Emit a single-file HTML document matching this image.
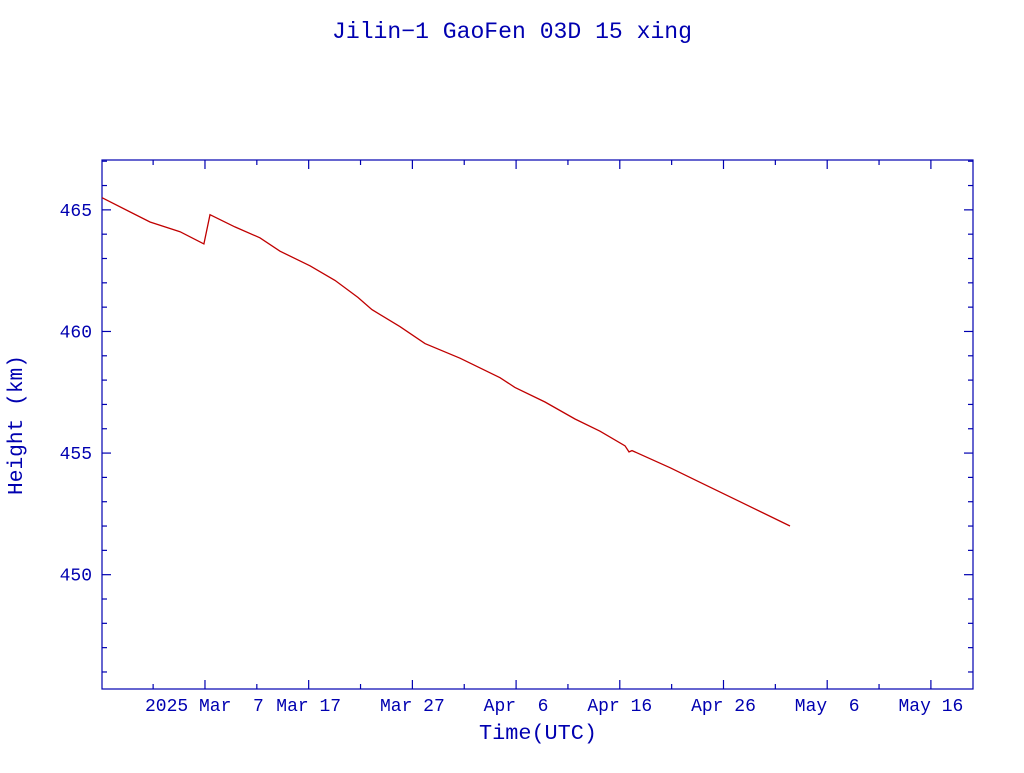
<!DOCTYPE html>
<html><head><meta charset="utf-8"><style>
body{margin:0;background:#fff;width:1024px;height:768px;overflow:hidden}
text{font-family:"Liberation Mono",monospace;fill:#0000b0}
</style></head><body>
<svg id="chart" width="1024" height="768" xmlns="http://www.w3.org/2000/svg">
<text x="512" y="38" text-anchor="middle" font-size="23" textLength="360" lengthAdjust="spacingAndGlyphs">Jilin−1 GaoFen 03D 15 xing</text>
<rect x="102" y="160" width="871" height="529" fill="none" stroke="#0000b0" stroke-width="1.2"/>
<g id="axes"></g>
<text transform="translate(22,425) rotate(-90)" text-anchor="middle" font-size="21" textLength="140" lengthAdjust="spacingAndGlyphs">Height (km)</text>
<text x="538" y="739" text-anchor="middle" font-size="21" textLength="118" lengthAdjust="spacingAndGlyphs">Time(UTC)</text>
</svg>
<script>
// days relative to 2025 Mar 7
const days=[-9.93,-5.30,-2.41,-0.10,0.48,2.89,5.30,7.23,10.13,12.54,14.75,16.10,18.80,21.22,24.59,28.45,29.89,32.79,35.68,38.09,40.50,40.89,41.18,44.84,47.73,51.59,56.41];
const heights=[465.5,464.5,464.1,463.6,464.8,464.3,463.85,463.3,462.7,462.1,461.4,460.9,460.2,459.5,458.9,458.1,457.7,457.1,456.4,455.9,455.3,455.05,455.1,454.4,453.8,453.0,452.0];
const yTicks=[450,455,460,465];
const xTickLabels=["Mar  7","Mar 17","Mar 27","Apr  6","Apr 16","Apr 26","May  6","May 16"];
const xTickDays=[0,10,20,30,40,50,60,70];
const NS="http://www.w3.org/2000/svg";
const X0=102,X1=973,Y0=689,Y1=160;
const dMin=-9.93,dMax=74.06,hMin=445.3,hMax=467.05;
const xs=d=>X0+(d-dMin)/(dMax-dMin)*(X1-X0);
const ys=h=>Y0-(h-hMin)/(hMax-hMin)*(Y0-Y1);
const g=document.getElementById('axes');
function line(x1,y1,x2,y2,name){const l=document.createElementNS(NS,'line');
l.setAttribute('x1',x1);l.setAttribute('y1',y1);l.setAttribute('x2',x2);l.setAttribute('y2',y2);
l.setAttribute('stroke','#0000b0');l.setAttribute('stroke-width','1.2');


g.appendChild(l);}
for(let h=446;h<=467;h++){const y=ys(h);const len=(h%5===0)?9:5;
line(X0,y,X0+len,y,'y-tick');line(X1,y,X1-len,y,'y-tick');}
yTicks.forEach(v=>{const t=document.createElementNS(NS,'text');
t.setAttribute('x',92);t.setAttribute('y',ys(v)+6);t.setAttribute('text-anchor','end');t.setAttribute('font-size','18');t.textContent=v;


g.appendChild(t);});
for(let d=-5;d<=70;d+=5){const x=xs(d);const len=(d%10===0)?9:5;
line(x,Y0,x,Y0-len,'x-tick');line(x,Y1,x,Y1+len,'x-tick');}
xTickDays.forEach((d,i)=>{const t=document.createElementNS(NS,'text');
t.setAttribute('y',711);t.setAttribute('font-size','18');
t.setAttribute('xml:space','preserve');t.style.whiteSpace='pre';
if(i===0){t.textContent='2025 '+xTickLabels[i];t.setAttribute('x',xs(d)-60);t.setAttribute('text-anchor','start');}
else{t.textContent=xTickLabels[i];t.setAttribute('x',xs(d));t.setAttribute('text-anchor','middle');}


g.appendChild(t);});
const p=document.createElementNS(NS,'polyline');
p.setAttribute('points',days.map((d,i)=>xs(d).toFixed(1)+','+ys(heights[i]).toFixed(1)).join(' '));
p.setAttribute('fill','none');p.setAttribute('stroke','#c00000');p.setAttribute('stroke-width','1.3');


g.appendChild(p);
</script>
</body></html>
